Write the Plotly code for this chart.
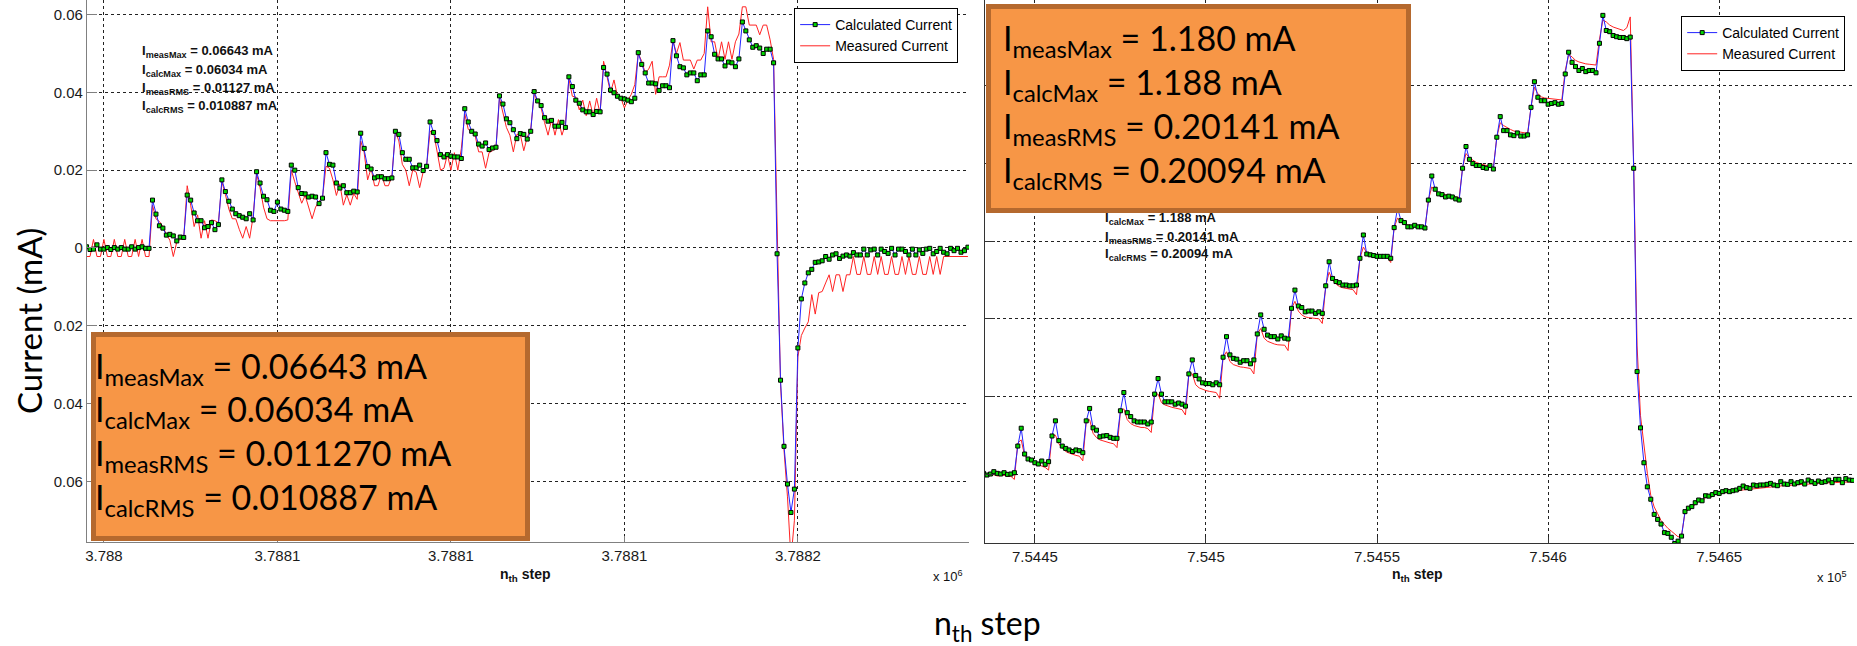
import plotly.graph_objects as go

W, H = 1857, 646
def px(x):
    return x / W
def py(y):
    return 1 - y / H

# ---------------- data ----------------
left_step0 = 3787995
left_calc = [
    0.0003, -0.0004, -0.0003, 0.0008, -0.0003, -0.0003, 0.0001, -0.0004, 0.0001, -0.0003,
    0.0001, -0.0003, -0.0003, 0.0003, -0.0003, 0.0001, 0.0003, -0.0001, -0.0001,
    0.0123, 0.0087, 0.0057, 0.0051, 0.0033, 0.0035, 0.0031, 0.0018, 0.0028, 0.0027,
    0.0136, 0.0123, 0.0090, 0.0070, 0.0070, 0.0052, 0.0055, 0.0065, 0.0047, 0.0060,
    0.0175, 0.0145, 0.0120, 0.0100, 0.0088, 0.0083, 0.0079, 0.0075, 0.0088, 0.0072,
    0.0196, 0.0167, 0.0133, 0.0124, 0.0097, 0.0094, 0.0118, 0.0100, 0.0097, 0.0094,
    0.0213, 0.0200, 0.0155, 0.0140, 0.0139, 0.0131, 0.0133, 0.0131, 0.0114, 0.0128,
    0.0245, 0.0215, 0.0213, 0.0167, 0.0154, 0.0160, 0.0142, 0.0142, 0.0146, 0.0144,
    0.0295, 0.0256, 0.0209, 0.0203, 0.0180, 0.0183, 0.0183, 0.0178, 0.0178, 0.0180,
    0.0300, 0.0292, 0.0245, 0.0228, 0.0228, 0.0206, 0.0206, 0.0213, 0.0199, 0.0210,
    0.0324, 0.0297, 0.0276, 0.0240, 0.0234, 0.0240, 0.0236, 0.0234, 0.0234, 0.0230,
    0.0358, 0.0324, 0.0300, 0.0293, 0.0267, 0.0262, 0.0270, 0.0253, 0.0257, 0.0259,
    0.0391, 0.0370, 0.0332, 0.0322, 0.0304, 0.0281, 0.0294, 0.0292, 0.0280, 0.0300,
    0.0402, 0.0378, 0.0366, 0.0335, 0.0326, 0.0328, 0.0313, 0.0313, 0.0323, 0.0310,
    0.0440, 0.0415, 0.0380, 0.0372, 0.0355, 0.0350, 0.0350, 0.0343, 0.0351, 0.0350,
    0.0464, 0.0447, 0.0406, 0.0399, 0.0390, 0.0385, 0.0383, 0.0380, 0.0376, 0.0385,
    0.0502, 0.0472, 0.0450, 0.0424, 0.0424, 0.0422, 0.0405, 0.0417, 0.0417, 0.0412,
    0.0533, 0.0494, 0.0466, 0.0463, 0.0445, 0.0450, 0.0450, 0.0430, 0.0445, 0.0445,
    0.0558, 0.0543, 0.0498, 0.0486, 0.0486, 0.0468, 0.0478, 0.0476, 0.0466, 0.0486,
    0.0581, 0.0558, 0.0535, 0.0516, 0.0520, 0.0514, 0.0500, 0.0511, 0.0511, 0.0476,
    -0.0015, -0.0340, -0.0510, -0.0607, -0.0680, -0.0620, -0.0257, -0.0131, -0.0090, -0.0064,
    -0.0055, -0.0037, -0.0036,
    -0.0033, -0.0022, -0.0029, -0.0018, -0.0015, -0.0027, -0.0021, -0.0018, -0.0021, -0.0012,
    -0.0018, -0.0018, -0.0003, -0.0018, -0.0005, -0.0003, -0.0018, -0.0003, -0.0009, -0.0014,
    -0.0001, -0.0018, -0.0003, -0.0003, -0.0009, -0.0018, -0.0003, -0.0018, -0.0005, -0.0014,
    -0.0003, -0.0001, -0.0015, -0.0009, -0.0001, -0.0011, -0.0015, -0.0001, -0.0007, -0.0001,
    -0.0011, -0.0007, 0.0002,
]
left_meas = [
    -0.0022, -0.0022, 0.0022, -0.0022, -0.0022, 0.0022, -0.0022, -0.0022, 0.0022, -0.0022,
    -0.0022, 0.0022, -0.0022, -0.0022, 0.0022, -0.0022, 0.0022, -0.0022, -0.0022,
    0.0110, 0.0075, 0.0068, 0.0055, 0.0035, 0.0020, -0.0022, 0.0015, 0.0022, 0.0025,
    0.0160, 0.0110, 0.0055, 0.0085, 0.0025, 0.0070, 0.0025, 0.0072, 0.0070, 0.0065,
    0.0170, 0.0138, 0.0100, 0.0075, 0.0075, 0.0048, 0.0025, 0.0055, 0.0025, 0.0080,
    0.0190, 0.0155, 0.0105, 0.0075, 0.0070, 0.0070, 0.0070, 0.0070, 0.0070, 0.0072,
    0.0200, 0.0170, 0.0140, 0.0115, 0.0135, 0.0105, 0.0075, 0.0105, 0.0120, 0.0130,
    0.0210, 0.0205, 0.0175, 0.0135, 0.0165, 0.0110, 0.0137, 0.0110, 0.0140, 0.0125,
    0.0275, 0.0245, 0.0175, 0.0205, 0.0160, 0.0160, 0.0190, 0.0160, 0.0160, 0.0185,
    0.0300, 0.0275, 0.0215, 0.0200, 0.0160, 0.0200, 0.0195, 0.0155, 0.0195, 0.0210,
    0.0300, 0.0298, 0.0243, 0.0200, 0.0205, 0.0240, 0.0200, 0.0245, 0.0200, 0.0255,
    0.0345, 0.0305, 0.0297, 0.0288, 0.0247, 0.0247, 0.0205, 0.0245, 0.0250, 0.0258,
    0.0385, 0.0350, 0.0310, 0.0290, 0.0247, 0.0292, 0.0292, 0.0250, 0.0285, 0.0305,
    0.0395, 0.0378, 0.0360, 0.0322, 0.0290, 0.0330, 0.0290, 0.0330, 0.0290, 0.0318,
    0.0435, 0.0390, 0.0388, 0.0355, 0.0380, 0.0340, 0.0378, 0.0340, 0.0385, 0.0345,
    0.0480, 0.0440, 0.0400, 0.0432, 0.0390, 0.0385, 0.0360, 0.0380, 0.0395, 0.0420,
    0.0500, 0.0480, 0.0450, 0.0460, 0.0480, 0.0395, 0.0440, 0.0440, 0.0440, 0.0470,
    0.0533, 0.0500, 0.0528, 0.0483, 0.0483, 0.0483, 0.0460, 0.0483, 0.0483, 0.0500,
    0.0620, 0.0530, 0.0530, 0.0485, 0.0530, 0.0485, 0.0530, 0.0485, 0.0530, 0.0550,
    0.0620, 0.0620, 0.0573, 0.0573, 0.0573, 0.0548, 0.0573, 0.0573, 0.0535, 0.0485,
    0.0050, -0.0350, -0.0520, -0.0640, -0.0800, -0.0700, -0.0280, -0.0225, -0.0206, -0.0190,
    -0.0120, -0.0170, -0.0115,
    -0.0112, -0.0090, -0.0069, -0.0112, -0.0069, -0.0069, -0.0112, -0.0069, -0.0069, -0.0022,
    -0.0068, -0.0068, -0.0022, -0.0068, -0.0068, -0.0022, -0.0068, -0.0022, -0.0068, -0.0068,
    -0.0022, -0.0068, -0.0068, -0.0022, -0.0068, -0.0022, -0.0068, -0.0068, -0.0022, -0.0068,
    -0.0068, -0.0022, -0.0068, -0.0022, -0.0068, -0.0022, -0.0022, -0.0022, -0.0022, -0.0022,
    -0.0022, -0.0022, -0.0022,
]

right_step0 = 754435
right_calc = [
    0.0017, -0.0026, 0.0000, 0.0060, 0.0017, 0.0000, 0.0034, -0.0009, 0.0000, 0.0034,
    0.072, 0.118, 0.0516, 0.0387, 0.036, 0.029, 0.0258, 0.0335, 0.025, 0.0318,
    0.098, 0.137, 0.086, 0.072, 0.066, 0.062, 0.058, 0.062, 0.060, 0.055,
    0.137, 0.169, 0.119, 0.113, 0.096, 0.098, 0.099, 0.0945, 0.092, 0.092,
    0.163, 0.210, 0.158, 0.148, 0.137, 0.134, 0.134, 0.134, 0.129, 0.134,
    0.206, 0.246, 0.206, 0.186, 0.186, 0.186, 0.180, 0.183, 0.180, 0.175,
    0.258, 0.294, 0.254, 0.245, 0.235, 0.233, 0.233, 0.230, 0.235, 0.230,
    0.301, 0.354, 0.307, 0.298, 0.296, 0.288, 0.292, 0.292, 0.284, 0.294,
    0.361, 0.410, 0.373, 0.358, 0.354, 0.354, 0.348, 0.356, 0.350, 0.348,
    0.427, 0.474, 0.433, 0.429, 0.418, 0.420, 0.420, 0.414, 0.418, 0.414,
    0.485, 0.547, 0.504, 0.496, 0.493, 0.487, 0.487, 0.485, 0.485, 0.487,
    0.556, 0.616, 0.567, 0.565, 0.563, 0.561, 0.561, 0.561, 0.561, 0.556,
    0.635, 0.685, 0.653, 0.648, 0.637, 0.637, 0.641, 0.637, 0.637, 0.634,
    0.706, 0.768, 0.734, 0.722, 0.720, 0.714, 0.716, 0.714, 0.709, 0.706,
    0.788, 0.844, 0.811, 0.800, 0.795, 0.795, 0.790, 0.788, 0.795, 0.786,
    0.868, 0.921, 0.885, 0.885, 0.874, 0.872, 0.879, 0.871, 0.871, 0.874,
    0.945, 1.011, 0.971, 0.962, 0.962, 0.953, 0.955, 0.957, 0.953, 0.955,
    1.031, 1.087, 1.061, 1.050, 1.040, 1.045, 1.037, 1.040, 1.040, 1.034,
    1.110, 1.182, 1.143, 1.140, 1.130, 1.127, 1.125, 1.125, 1.122, 1.126,
    0.788, 0.264, 0.119, 0.029, -0.033, -0.065, -0.104, -0.117, -0.129, -0.151,
    -0.153, -0.163, -0.179, -0.173, -0.160, -0.097, -0.088, -0.084, -0.074, -0.067,
    -0.069, -0.056, -0.057, -0.053, -0.048, -0.050,
    -0.0455, -0.0430, -0.0455, -0.0430, -0.0412, -0.0369, -0.0309, -0.0352, -0.0369, -0.0283,
    -0.0301, -0.0283, -0.0283, -0.0266, -0.0241, -0.0283, -0.0301, -0.0198, -0.0258, -0.0266,
    -0.0198, -0.0258, -0.0223, -0.0198, -0.0258, -0.0155, -0.0198, -0.0241, -0.0180, -0.0215,
    -0.0198, -0.0155, -0.0223, -0.0137, -0.0137, -0.0223, -0.0120, -0.0155, -0.0163,
]
right_meas = [
    -0.004, -0.006, -0.003, -0.002, -0.005, -0.004, -0.003, -0.006, -0.006, -0.014,
    0.080, 0.088, 0.047, 0.038, 0.032, 0.028, 0.024, 0.021, 0.017, 0.010,
    0.098, 0.100, 0.078, 0.066, 0.058, 0.054, 0.050, 0.048, 0.046, 0.034,
    0.135, 0.140, 0.105, 0.094, 0.088, 0.085, 0.083, 0.080, 0.078, 0.068,
    0.160, 0.168, 0.140, 0.130, 0.125, 0.122, 0.120, 0.120, 0.117, 0.107,
    0.206, 0.206, 0.184, 0.178, 0.174, 0.172, 0.170, 0.168, 0.166, 0.152,
    0.258, 0.258, 0.230, 0.222, 0.218, 0.215, 0.213, 0.212, 0.210, 0.195,
    0.301, 0.315, 0.290, 0.282, 0.278, 0.276, 0.275, 0.273, 0.272, 0.258,
    0.361, 0.375, 0.350, 0.342, 0.338, 0.335, 0.333, 0.333, 0.332, 0.318,
    0.427, 0.445, 0.420, 0.410, 0.405, 0.403, 0.402, 0.400, 0.400, 0.388,
    0.485, 0.520, 0.500, 0.490, 0.483, 0.480, 0.478, 0.476, 0.475, 0.462,
    0.556, 0.585, 0.570, 0.565, 0.562, 0.560, 0.560, 0.560, 0.558, 0.545,
    0.635, 0.660, 0.650, 0.645, 0.642, 0.640, 0.640, 0.638, 0.636, 0.630,
    0.706, 0.740, 0.730, 0.725, 0.722, 0.720, 0.718, 0.716, 0.714, 0.712,
    0.790, 0.826, 0.815, 0.808, 0.803, 0.800, 0.797, 0.795, 0.792, 0.790,
    0.868, 0.905, 0.898, 0.892, 0.888, 0.884, 0.882, 0.881, 0.880, 0.878,
    0.945, 0.997, 0.980, 0.972, 0.969, 0.968, 0.968, 0.967, 0.966, 0.964,
    1.040, 1.080, 1.075, 1.066, 1.062, 1.059, 1.057, 1.056, 1.055, 1.054,
    1.120, 1.170, 1.165, 1.157, 1.152, 1.149, 1.145, 1.143, 1.150, 1.178,
    0.800, 0.330, 0.150, 0.070, 0.002, -0.055, -0.085, -0.102, -0.120, -0.130,
    -0.140, -0.147, -0.155, -0.162, -0.158, -0.100, -0.092, -0.087, -0.078, -0.071,
    -0.072, -0.060, -0.061, -0.057, -0.052, -0.054,
    -0.049, -0.048, -0.047, -0.046, -0.045, -0.043, -0.041, -0.040, -0.039, -0.038,
    -0.037, -0.036, -0.035, -0.034, -0.033, -0.032, -0.031, -0.031, -0.030, -0.029,
    -0.029, -0.028, -0.027, -0.027, -0.026, -0.026, -0.025, -0.025, -0.024, -0.024,
    -0.023, -0.023, -0.022, -0.022, -0.021, -0.021, -0.021, -0.020, -0.020,
]
for arr in (left_calc, left_meas, right_calc, right_meas):
    assert len(arr) == 255, len(arr)

left_x = list(range(left_step0, left_step0 + len(left_calc)))
right_x = list(range(right_step0, right_step0 + len(right_calc)))

left_xticks = [3788000, 3788050, 3788100, 3788150, 3788200]
left_xlabels = ["3.788", "3.7881", "3.7881", "3.7881", "3.7882"]
left_yticks = [-0.06, -0.04, -0.02, 0, 0.02, 0.04, 0.06]
left_ylabels = ["0.06", "0.04", "0.02", "0", "0.02", "0.04", "0.06"]
right_xticks = [754450, 754500, 754550, 754600, 754650]
right_xlabels = ["7.5445", "7.545", "7.5455", "7.546", "7.5465"]
right_yticks = [0, 0.2, 0.4, 0.6, 0.8, 1.0]

left_stats_small = ["= 0.06643 mA", "= 0.06034 mA", "= 0.01127 mA", "= 0.010887 mA"]
left_stats_big = ["= 0.06643 mA", "= 0.06034 mA", "= 0.011270 mA", "= 0.010887 mA"]
right_stats_small = ["= 1.180 mA", "= 1.188 mA", "= 0.20141 mA", "= 0.20094 mA"]
right_stats_big = ["= 1.180 mA", "= 1.188 mA", "= 0.20141 mA", "= 0.20094 mA"]
stat_subs = ["measMax", "calcMax", "measRMS", "calcRMS"]

# ---------------- styling ----------------
ARIAL = "Liberation Sans, Arial, sans-serif"
CAL = "Lato, Carlito, Calibri, sans-serif"
BLUE = "rgb(35,35,255)"
RED = "rgb(255,35,35)"
GREEN = "#00D800"
ORANGE = "#F79646"
ORANGE_EDGE = "#B5692E"
BIG = 34

fig = go.Figure()

def add_pair(xs, calc, meas, xa, ya, leg):
    fig.add_trace(go.Scatter(
        x=xs, y=meas, mode="lines", name="Measured Current",
        line=dict(color=RED, width=1), xaxis=xa, yaxis=ya,
        legend=leg, legendrank=2, hoverinfo="skip"))
    fig.add_trace(go.Scatter(
        x=xs, y=calc, mode="lines+markers", name="Calculated Current",
        line=dict(color=BLUE, width=1),
        marker=dict(symbol="square", size=4, color=GREEN,
                    line=dict(color="black", width=1)),
        xaxis=xa, yaxis=ya, legend=leg, legendrank=1, hoverinfo="skip"))

add_pair(left_x, left_calc, left_meas, "x", "y", "legend")
add_pair(right_x, right_calc, right_meas, "x2", "y2", "legend2")

grid = dict(showgrid=True, gridcolor="#222", gridwidth=1, griddash="dot",
            zeroline=False, showline=True, ticks="inside",
            tickfont=dict(family=ARIAL, size=15, color="#1a1a1a"))

fig.update_layout(
    width=W, height=H, autosize=False,
    margin=dict(l=0, r=0, t=0, b=0),
    paper_bgcolor="white", plot_bgcolor="white",
    showlegend=True,
    xaxis=dict(domain=[px(85), px(968)], range=[3787995.1, 3788249.3],
               tickmode="array", tickvals=left_xticks, ticktext=left_xlabels,
               linecolor="#808080", tickcolor="#808080", ticklen=6, anchor="y", **grid),
    yaxis=dict(domain=[1 - 542 / H, 1], range=[-0.0756, 0.06375],
               tickmode="array", tickvals=left_yticks, ticktext=left_ylabels,
               linecolor="#808080", tickcolor="#808080", ticklen=10, anchor="x", **grid),
    xaxis2=dict(domain=[px(984), px(1854)], range=[754435.4, 754689.4],
                tickmode="array", tickvals=right_xticks, ticktext=right_xlabels,
                linecolor="#333", tickcolor="#333", ticklen=6, anchor="y2", **grid),
    yaxis2=dict(domain=[1 - 543 / H, 1], range=[-0.1778, 1.2216],
                tickmode="array", tickvals=right_yticks, showticklabels=False,
                linecolor="#333", tickcolor="#333", ticklen=10, anchor="x2", **grid),
    legend=dict(x=px(793), y=py(8), xanchor="left", yanchor="top",
                bgcolor="white", bordercolor="black", borderwidth=1,
                font=dict(family=ARIAL, size=14, color="black"), itemwidth=30),
    legend2=dict(x=px(1681), y=py(16), xanchor="left", yanchor="top",
                 bgcolor="white", bordercolor="black", borderwidth=1,
                 font=dict(family=ARIAL, size=14, color="black"), itemwidth=30),
)

ann = []
# small statistics text inside the plots
for k in range(4):
    ann.append(dict(xref="paper", yref="paper", x=px(139), y=py(45 + k * 18.3 - 2.5),
                    xanchor="left", yanchor="top", showarrow=False, borderpad=0,
                    text="<b>I<sub>%s</sub> %s</b>" % (stat_subs[k], left_stats_small[k]),
                    font=dict(family=ARIAL, size=13, color="#111")))
    ann.append(dict(xref="paper", yref="paper", x=px(1103), y=py(194 + k * 18 - 2.5),
                    xanchor="left", yanchor="top", showarrow=False, borderpad=0,
                    text="<b>I<sub>%s</sub> %s</b>" % (stat_subs[k], right_stats_small[k]),
                    font=dict(family=ARIAL, size=13, color="#111")))

# small axis labels and exponents
for cx in (524, 1417):
    ann.append(dict(xref="paper", yref="paper", x=px(cx), y=py(575), xanchor="center",
                    yanchor="middle", showarrow=False,
                    text="<b>n<sub>th</sub> step</b>",
                    font=dict(family=ARIAL, size=14, color="#111")))
ann.append(dict(xref="paper", yref="paper", x=px(947), y=py(576), xanchor="center",
                yanchor="middle", showarrow=False, text="x 10<sup>6</sup>",
                font=dict(family=ARIAL, size=13, color="#111")))
ann.append(dict(xref="paper", yref="paper", x=px(1832), y=py(577), xanchor="center",
                yanchor="middle", showarrow=False, text="x 10<sup>5</sup>",
                font=dict(family=ARIAL, size=13, color="#111")))

# orange boxes
for (bx, by, bw, bh) in ((89, 332, 434, 204), (985, 4, 420, 204)):
    ann.append(dict(xref="paper", yref="paper", x=px(bx), y=py(by), xanchor="left",
                    yanchor="top", showarrow=False, text=" ", width=bw - 5, height=bh - 5,
                    bgcolor=ORANGE, bordercolor=ORANGE_EDGE, borderwidth=5, borderpad=0))

# big statistics text in the boxes
left_tops = [353, 396, 440, 484]
right_tops = [25, 69, 113, 157]
for k in range(4):
    ann.append(dict(xref="paper", yref="paper", x=px(92), y=py(left_tops[k] - 0.27 * BIG),
                    xanchor="left", yanchor="top", showarrow=False, borderpad=0,
                    text="I<sub>%s</sub> %s" % (stat_subs[k], left_stats_big[k]),
                    font=dict(family=CAL, size=BIG, color="black")))
    ann.append(dict(xref="paper", yref="paper", x=px(1001), y=py(right_tops[k] - 0.27 * BIG),
                    xanchor="left", yanchor="top", showarrow=False, borderpad=0,
                    text="I<sub>%s</sub> %s" % (stat_subs[k], right_stats_big[k]),
                    font=dict(family=CAL, size=BIG, color="black")))

# big axis titles
ann.append(dict(xref="paper", yref="paper", x=px(27), y=py(321), xanchor="center",
                yanchor="middle", showarrow=False, textangle=-90, text="Current (mA)",
                font=dict(family=CAL, size=33, color="black")))
ann.append(dict(xref="paper", yref="paper", x=px(987), y=py(601), xanchor="center",
                yanchor="top", showarrow=False, text="n<sub>th</sub> step",
                font=dict(family=CAL, size=32, color="black")))

fig.update_layout(annotations=ann)
fig.write_html("out.html")
